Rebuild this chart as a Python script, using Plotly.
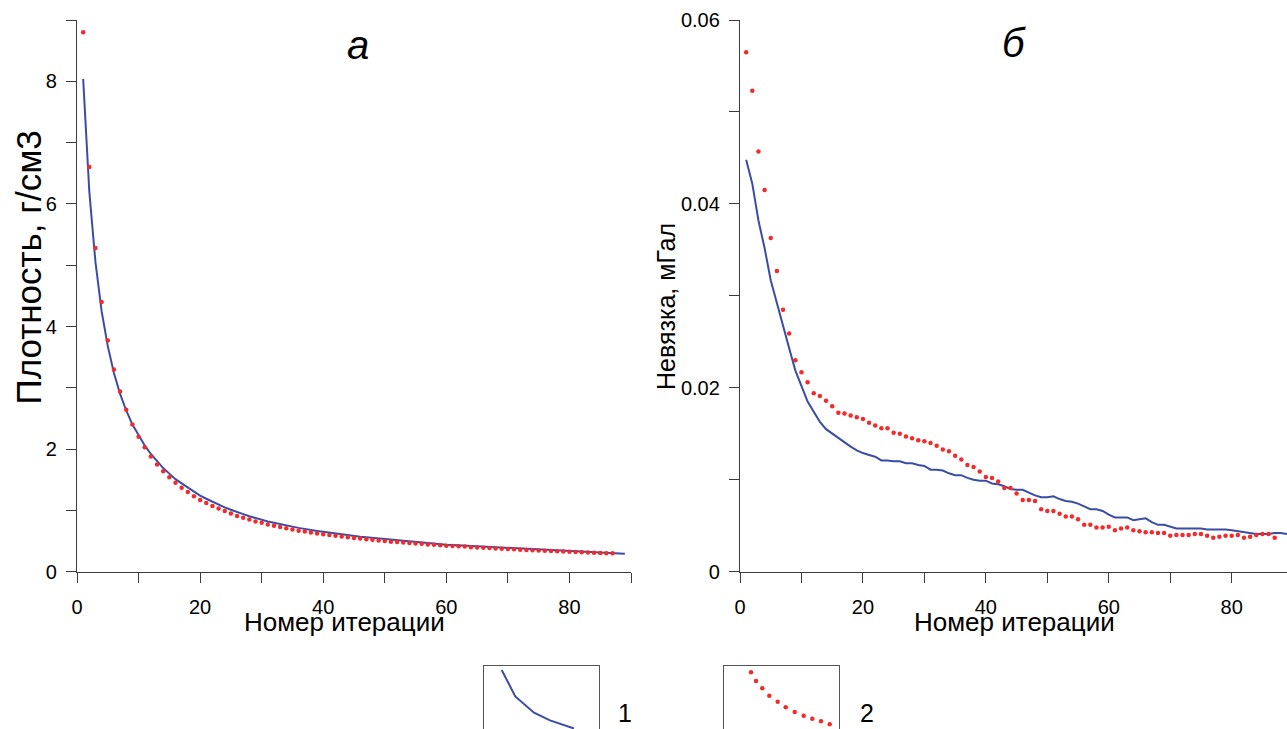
import plotly.graph_objects as go

W, H = 1287, 729

# ---------------- data ----------------
iter_blue_a = list(range(1, 90))
density_blue = [
    8.04, 6.20, 5.05, 4.25, 3.68, 3.24, 2.90, 2.63, 2.40, 2.22,
    2.06, 1.92, 1.80, 1.69, 1.60, 1.51, 1.44, 1.37, 1.30, 1.24,
    1.19, 1.14, 1.09, 1.05, 1.01, 0.97, 0.94, 0.905, 0.875, 0.85,
    0.82, 0.80, 0.775, 0.755, 0.735, 0.715, 0.695, 0.68, 0.665, 0.65,
    0.635, 0.62, 0.605, 0.595, 0.58, 0.57, 0.56, 0.55, 0.54, 0.53,
    0.52, 0.51, 0.50, 0.49, 0.48, 0.475, 0.465, 0.46, 0.45, 0.44,
    0.435, 0.43, 0.42, 0.415, 0.41, 0.405, 0.40, 0.395, 0.39, 0.385,
    0.38, 0.375, 0.37, 0.365, 0.36, 0.355, 0.35, 0.345, 0.34, 0.335,
    0.33, 0.325, 0.32, 0.315, 0.31, 0.305, 0.30, 0.297, 0.293,
]
iter_red_a = list(range(1, 88))
density_red = [
    8.80, 6.60, 5.28, 4.40, 3.77, 3.30, 2.94, 2.64, 2.40, 2.20,
    2.03, 1.88, 1.75, 1.64, 1.54, 1.45, 1.37, 1.30, 1.23, 1.17,
    1.12, 1.07, 1.03, 0.99, 0.95, 0.91, 0.88, 0.85, 0.82, 0.80,
    0.77, 0.75, 0.73, 0.71, 0.69, 0.67, 0.655, 0.64, 0.625, 0.61,
    0.60, 0.585, 0.575, 0.56, 0.55, 0.54, 0.53, 0.52, 0.51, 0.50,
    0.49, 0.485, 0.475, 0.47, 0.46, 0.455, 0.445, 0.44, 0.43, 0.425,
    0.42, 0.415, 0.41, 0.40, 0.395, 0.39, 0.385, 0.38, 0.375, 0.37,
    0.365, 0.36, 0.355, 0.35, 0.345, 0.34, 0.337, 0.333, 0.33, 0.325,
    0.32, 0.317, 0.313, 0.31, 0.307, 0.303, 0.30,
]
iter_blue_b = list(range(1, 90))
misfit_blue = [
    0.0448, 0.0422, 0.0382, 0.0352, 0.0317, 0.0292, 0.0265, 0.0243, 0.0219, 0.0201,
    0.0185, 0.0174, 0.0163, 0.0155, 0.0150, 0.0146, 0.0141, 0.0136, 0.0132, 0.0129,
    0.0127, 0.0125, 0.0121, 0.0121, 0.0120, 0.0120, 0.0118, 0.0118, 0.0116, 0.0115,
    0.0111, 0.0111, 0.0110, 0.0107, 0.0105, 0.0105, 0.0102, 0.0100, 0.0099, 0.0099,
    0.0096, 0.0095, 0.0093, 0.0090, 0.0089, 0.0089, 0.0086, 0.0083, 0.0081, 0.0081,
    0.0082, 0.0079, 0.0077, 0.0076, 0.0074, 0.0071, 0.0068, 0.0068, 0.0066, 0.0062,
    0.0059, 0.0059, 0.0059, 0.0056, 0.0057, 0.0058, 0.0054, 0.0051, 0.0051, 0.0049,
    0.0047, 0.0047, 0.0047, 0.0047, 0.0047, 0.0046, 0.0046, 0.0046, 0.0046, 0.0045,
    0.0044, 0.0043, 0.0042, 0.0041, 0.0041, 0.0041, 0.0042, 0.0042, 0.0041,
]
iter_red_b = list(range(1, 88))
misfit_red = [
    0.0565, 0.0523, 0.0457, 0.0415, 0.0363, 0.0327, 0.0285, 0.0259, 0.0230, 0.0217,
    0.0206, 0.0194, 0.0191, 0.0186, 0.0180, 0.0173, 0.0172, 0.0170, 0.0168, 0.0166,
    0.0162, 0.0159, 0.0156, 0.0156, 0.0151, 0.0150, 0.0147, 0.0145, 0.0143, 0.0142,
    0.0140, 0.0137, 0.0133, 0.0131, 0.0126, 0.0122, 0.0116, 0.0114, 0.0109, 0.0103,
    0.0102, 0.0098, 0.0091, 0.0091, 0.0085, 0.0078, 0.0078, 0.0077, 0.0068, 0.0066,
    0.0066, 0.0063, 0.0060, 0.0060, 0.0057, 0.0051, 0.0051, 0.0048, 0.0048, 0.0049,
    0.0045, 0.0047, 0.0048, 0.0045, 0.0044, 0.0043, 0.0043, 0.0042, 0.0042, 0.0039,
    0.0040, 0.0040, 0.0040, 0.0041, 0.0041, 0.0039, 0.0037, 0.0038, 0.0039, 0.0039,
    0.0040, 0.0037, 0.0038, 0.0040, 0.0041, 0.0041, 0.0037,
]

# legend sample curves (inset coordinates)
legend_line_x = [17.7, 31.3, 50.0, 66.0, 90.0]
legend_line_y = [59.0, 32.6, 16.3, 8.6, 0.5]
legend_dots_x = [26.7, 31.7, 38.0, 45.0, 53.4, 61.4, 70.4, 79.4, 88.0, 96.7, 105.4]
legend_dots_y = [56.7, 48.0, 40.7, 33.3, 27.3, 21.7, 17.0, 13.3, 10.3, 7.7, 4.7]
legend_labels = ["1", "2"]

panel_labels = ["а", "б"]
y_titles = ["Плотность, г/см3", "Невязка, мГал"]
x_title = "Номер итерации"

BLUE = "#3a4da6"
RED = "#f42a2a"
AX = "#3c3c3c"
FONT = "Arial, Liberation Sans, sans-serif"


def fx(px):
    return px / W


def fy(py):
    return 1 - py / H


fig = go.Figure()

fig.add_trace(go.Scatter(x=iter_blue_a, y=density_blue, mode="lines",
                         line=dict(color=BLUE, width=2), xaxis="x", yaxis="y",
                         showlegend=False, hoverinfo="skip"))
fig.add_trace(go.Scatter(x=iter_red_a, y=density_red, mode="markers",
                         marker=dict(color=RED, size=4.5), xaxis="x", yaxis="y",
                         showlegend=False, hoverinfo="skip"))
fig.add_trace(go.Scatter(x=iter_blue_b, y=misfit_blue, mode="lines",
                         line=dict(color=BLUE, width=2), xaxis="x2", yaxis="y2",
                         showlegend=False, hoverinfo="skip"))
fig.add_trace(go.Scatter(x=iter_red_b, y=misfit_red, mode="markers",
                         marker=dict(color=RED, size=4.5), xaxis="x2", yaxis="y2",
                         showlegend=False, hoverinfo="skip"))
# legend insets
fig.add_trace(go.Scatter(x=legend_line_x, y=legend_line_y, mode="lines",
                         line=dict(color=BLUE, width=2), xaxis="x3", yaxis="y3",
                         showlegend=False, hoverinfo="skip"))
fig.add_trace(go.Scatter(x=legend_dots_x, y=legend_dots_y, mode="markers",
                         marker=dict(color=RED, size=4.5), xaxis="x4", yaxis="y4",
                         showlegend=False, hoverinfo="skip"))

tickfont = dict(family=FONT, size=20, color="black")


def main_x(domain, rng, anchor):
    return dict(domain=domain, range=rng, anchor=anchor, automargin=False,
                showline=True, linecolor=AX, linewidth=1.3, ticks="outside",
                ticklen=10, tickcolor=AX, tickwidth=1.3, dtick=20, tick0=0,
                ticklabelstandoff=7,
                minor=dict(dtick=10, tick0=0, ticks="outside", ticklen=10,
                           tickcolor=AX, tickwidth=1.3, showgrid=False),
                showgrid=False, zeroline=False, tickfont=tickfont)


def main_y(domain, rng, dtick, anchor):
    return dict(domain=domain, range=rng, anchor=anchor, automargin=False,
                showline=True, linecolor=AX, linewidth=1.3, ticks="outside",
                ticklen=10, tickcolor=AX, tickwidth=1.3, dtick=dtick, tick0=0,
                ticklabelstandoff=5,
                minor=dict(dtick=dtick / 2, tick0=0, ticks="outside", ticklen=10,
                           tickcolor=AX, tickwidth=1.3, showgrid=False),
                showgrid=False, zeroline=False, tickfont=tickfont)


ydom = [fy(571.7), fy(20)]


def inset_x(domain, anchor):
    return dict(domain=domain, range=[0, 115], anchor=anchor, side="top",
                automargin=False, showline=True, mirror=False,
                linecolor="#555555", linewidth=1.2, ticks="",
                showticklabels=False, showgrid=False, zeroline=False)


def inset_y(domain, anchor):
    return dict(domain=domain, range=[0, 63.3], anchor=anchor, automargin=False,
                showline=True, mirror=True, linecolor="#555555", linewidth=1.2,
                ticks="", showticklabels=False, showgrid=False, zeroline=False)


fig.update_layout(
    width=W, height=H,
    margin=dict(l=0, r=0, t=0, b=0, autoexpand=False),
    paper_bgcolor="white", plot_bgcolor="white",
    font=dict(family=FONT, color="black"),
    xaxis=main_x([fx(77), fx(631)], [0, 90], "y"),
    yaxis=main_y(ydom, [0, 9], 2, "x"),
    xaxis2=main_x([fx(740), 1.0], [0, 89], "y2"),
    yaxis2=main_y(ydom, [0, 0.06], 0.02, "x2"),
    xaxis3=inset_x([fx(484), fx(599)], "y3"),
    yaxis3=inset_y([0, fy(665.7)], "x3"),
    xaxis4=inset_x([fx(724.3), fx(839.3)], "y4"),
    yaxis4=inset_y([0, fy(665.7)], "x4"),
)


def label(text, px, py, size, angle=0, italic=False, yanchor="middle"):
    f = dict(size=size, family=FONT, color="black")
    if italic:
        f["style"] = "italic"
    return dict(text=text, x=fx(px), y=fy(py), xref="paper", yref="paper",
                xanchor="center", yanchor=yanchor, showarrow=False,
                textangle=angle, font=f)


ann = [
    label(panel_labels[0], 357.5, 45, 40, italic=True),
    label(panel_labels[1], 1014, 43, 40, italic=True),
    label(x_title, 344.5, 622, 26),
    label(x_title, 1014, 622, 26),
    label(y_titles[0], 28.5, 268, 35, angle=-90),
    label(y_titles[1], 666, 307, 25, angle=-90),
    label(legend_labels[0], 625, 729, 25, yanchor="bottom"),
    label(legend_labels[1], 867, 729, 25, yanchor="bottom"),
]
fig.update_layout(annotations=ann)

fig.write_html("out.html", config={"displayModeBar": False},
               post_script="document.body.style.margin='0';"
                           "document.body.style.overflow='hidden';")
